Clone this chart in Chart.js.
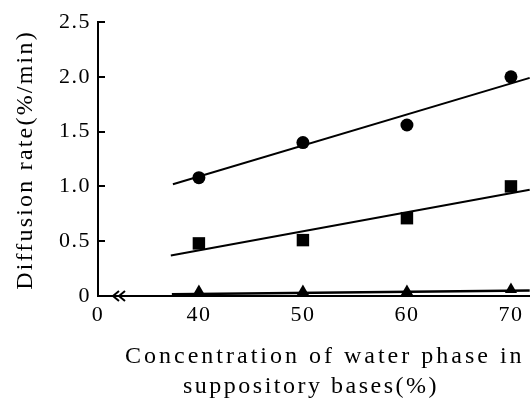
<!DOCTYPE html>
<html>
<head>
<meta charset="utf-8">
<script src="https://cdn.jsdelivr.net/npm/chart.js@4/dist/chart.umd.min.js"></script>
<style>
  html, body { margin: 0; padding: 0; background: #fff; }
  #myChart { display: block; }
</style>
</head>
<body>
<canvas id="myChart" width="530" height="398"></canvas>
<script>
// data
const concentrations = [40, 50, 60, 70]
const circleRate = [1.08, 1.40, 1.56, 2.00]
const squareRate = [0.48, 0.51, 0.71, 1.00]
const triangleRate = [0.04, 0.04, 0.04, 0.06]

// fitted lines (start / end)
const circleFitX = [37.5, 71.8]
const circleFitY = [1.02, 1.99]
const squareFitX = [37.3, 71.8]
const squareFitY = [0.37, 0.97]
const triangleFitX = [37.4, 71.8]
const triangleFitY = [0.015, 0.05]

const xTicks = [40, 50, 60, 70]
const yTicks = [0, 0.5, 1.0, 1.5, 2.0, 2.5]
const xMin = 30.3
const xMax = 71.83

const xTitle = ['Concentration of water phase in', 'suppository bases(%)']
const yTitle = 'Diffusion rate(%/min)'

const serif = '"Liberation Serif", "Times New Roman", serif'

function points(xs, ys) {
  return xs.map((x, i) => ({ x: x, y: ys[i] }))
}

function markers(ys, style, radius) {
  return {
    data: points(concentrations, ys),
    pointStyle: style,
    pointRadius: radius,
    backgroundColor: '#000',
    borderColor: '#000',
    borderWidth: 0,
    showLine: false
  }
}

function fitLine(xs, ys, width) {
  return {
    data: points(xs, ys),
    showLine: true,
    pointRadius: 0,
    borderColor: '#000',
    borderWidth: width || 2,
    fill: false
  }
}

const decorations = {
  id: 'decorations',
  beforeDraw(chart) {
    chart.ctx.letterSpacing = '1.5px'
  },
  afterDraw(chart) {
    const ctx = chart.ctx
    const area = chart.chartArea
    const y = chart.scales.y
    ctx.save()
    ctx.strokeStyle = '#000'
    ctx.lineWidth = 2

    // inward ticks on the y axis
    yTicks.forEach(v => {
      const py = Math.round(y.getPixelForValue(v))
      ctx.beginPath()
      ctx.moveTo(area.left, py)
      ctx.lineTo(area.left + 7, py)
      ctx.stroke()
    })

    // axis break mark
    const by = y.getPixelForValue(0)
    for (let i = 0; i < 2; i++) {
      const bx = area.left + 15 + i * 6
      ctx.beginPath()
      ctx.moveTo(bx + 6, by - 5)
      ctx.lineTo(bx, by)
      ctx.lineTo(bx + 6, by + 5)
      ctx.stroke()
    }

    // axis titles
    ctx.fillStyle = '#000'
    ctx.font = '24px ' + serif
    ctx.textBaseline = 'alphabetic'
    ctx.textAlign = 'left'
    ctx.letterSpacing = '3px'
    ctx.fillText(xTitle[0], 125, 363)
    ctx.letterSpacing = '2.5px'
    ctx.fillText(xTitle[1], 183, 393)

    ctx.translate(32, 160)
    ctx.rotate(-Math.PI / 2)
    ctx.textAlign = 'center'
    ctx.letterSpacing = '2.2px'
    ctx.fillText(yTitle, 0, 0)
    ctx.restore()
  }
}

const ctx = document.getElementById('myChart')

new Chart(ctx, {
  type: 'scatter',
  data: {
    datasets: [
      fitLine(circleFitX, circleFitY),
      fitLine(squareFitX, squareFitY),
      fitLine(triangleFitX, triangleFitY, 2.5),
      markers(circleRate, 'circle', 6.5),
      markers(squareRate, 'rect', 8.8),
      markers(triangleRate, 'triangle', 7)
    ]
  },
  options: {
    responsive: false,
    animation: false,
    layout: { autoPadding: false, padding: { top: 22, right: 0, left: 0, bottom: 0 } },
    plugins: {
      legend: { display: false },
      tooltip: { enabled: false }
    },
    scales: {
      x: {
        type: 'linear',
        min: xMin,
        max: xMax,
        afterBuildTicks: scale => {
          scale.ticks = [{ value: xMin }].concat(xTicks.map(v => ({ value: v })))
        },
        afterFit: scale => {
          scale.height = 102
          scale.paddingLeft = 0
          scale.paddingRight = 0
        },
        ticks: {
          autoSkip: false,
          maxRotation: 0,
          padding: 6,
          color: '#000',
          font: { family: serif, size: 22 },
          callback: v => (v === xMin ? '0' : String(v))
        },
        grid: { display: false, drawTicks: false },
        border: { display: true, color: '#000', width: 2 }
      },
      y: {
        min: 0,
        max: 2.5,
        afterBuildTicks: scale => {
          scale.ticks = yTicks.map(v => ({ value: v }))
        },
        afterFit: scale => {
          scale.width = 98
          scale.paddingTop = 0
          scale.paddingBottom = 0
        },
        ticks: {
          padding: 7,
          color: '#000',
          font: { family: serif, size: 22 },
          callback: v => (v === 0 ? '0' : v.toFixed(1))
        },
        grid: { display: false, drawTicks: false },
        border: { display: true, color: '#000', width: 2 }
      }
    }
  },
  plugins: [decorations]
})
</script>
</body>
</html>
